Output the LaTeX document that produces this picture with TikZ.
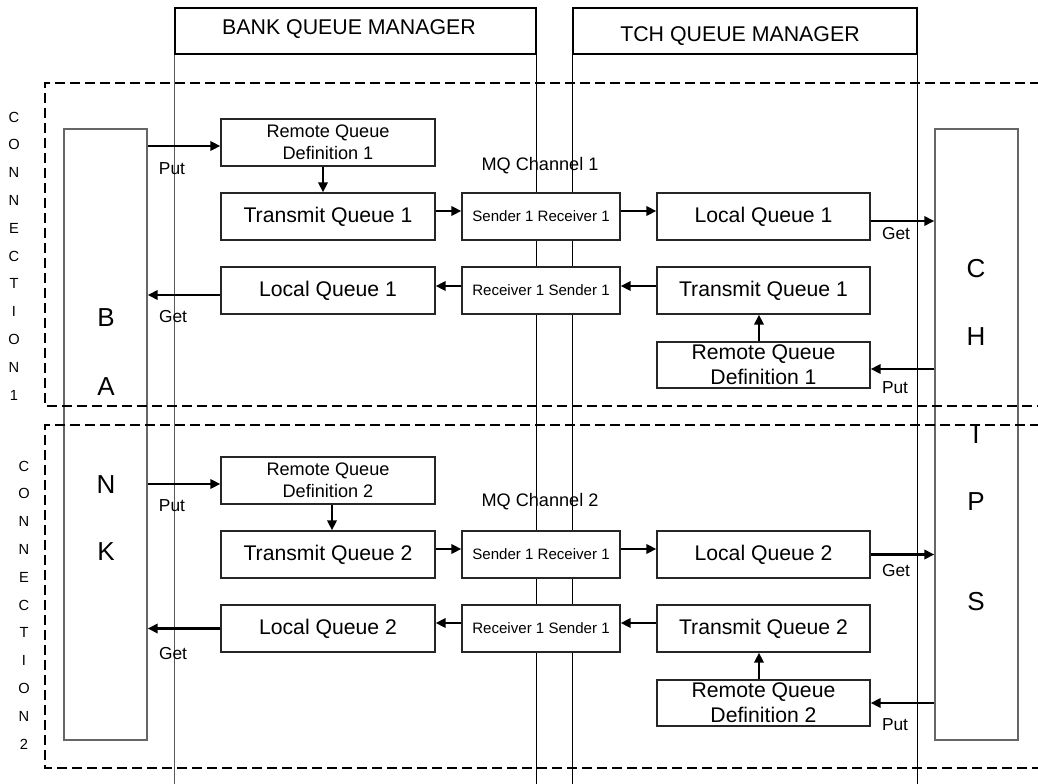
\documentclass[tikz,border=0pt]{standalone}
\usepackage{fontspec}
\setmainfont{Liberation Sans}
\usetikzlibrary{arrows.meta,calc}
\newcommand\fmain{\fontsize{15.9pt}{18pt}\selectfont}
\newcommand\fhdr{\fontsize{16pt}{19pt}\selectfont}
\newcommand\fsml{\fontsize{13.6pt}{16.5pt}\selectfont}
\newcommand\fbig{\fontsize{15.9pt}{18.75pt}\selectfont}
\newcommand\fsr{\fontsize{11.3pt}{13pt}\selectfont}
\newcommand\flbl{\fontsize{13pt}{15pt}\selectfont}
\newcommand\fconn{\fontsize{11pt}{20.85pt}\selectfont}
\newcommand\fletter{\fontsize{19.5pt}{22pt}\selectfont}
\begin{document}
\begin{tikzpicture}[x=0.75pt,y=-0.75pt,
  sz/.style 2 args={minimum width=#1*0.75pt,minimum height=#2*0.75pt},
  qbox/.style={draw=black!85,fill=white,line width=1pt,inner sep=0pt,font=\fmain,align=center},
  party/.style={draw=black!60,line width=1.1pt,inner sep=0pt},
  hdr/.style={draw=black,line width=1pt,inner sep=0pt},
  colline/.style={black,line width=1pt},
  arr/.style={line width=2pt,-{Triangle[length=7.5pt,width=7pt]}},
  dashbox/.style={line width=1.6pt,dash pattern=on 7.5pt off 3.75pt},
  lbl/.style={font=\flbl,inner sep=0pt},
  letter/.style={font=\fletter,inner sep=0pt},
  conn/.style={font=\fconn,align=center,inner sep=0pt},
]
\useasboundingbox (0,0) rectangle (1038,784);
\fill[white] (0,0) rectangle (1038,784);

% queue manager columns
\node[hdr,sz={361}{46}] (bankhdr) at (355.5,31) {};
\draw[colline,black!65] (bankhdr.south west) -- ++(0,740);
\draw[colline] (bankhdr.south east) -- ++(0,740);
\node[font=\fhdr,inner sep=0pt] (banktitle) at (349,29) {BANK QUEUE MANAGER};
\node[hdr,sz={344}{46}] (tchhdr) at (745,31) {};
\draw[colline] (tchhdr.south west) -- ++(0,740);
\draw[colline] (tchhdr.south east) -- ++(0,740);
\node[font=\fhdr,inner sep=0pt] (tchtitle) at (740,36) {TCH QUEUE MANAGER};

% bank and chips
\node[party,sz={83}{611}] (bank) at (105.5,434.5) {};
\node[party,sz={83}{611}] (chips) at (976.5,434.5) {};

% connection frames
\coordinate (f1a) at (1040,83); \coordinate (f1b) at (45,83);
\coordinate (f1c) at (45,406); \coordinate (f1d) at (1040,406);
\draw[dashbox] (f1a) -- (f1b) -- (f1c) -- (f1d);
\coordinate (f2a) at (1040,425); \coordinate (f2b) at (45,425);
\coordinate (f2c) at (45,768); \coordinate (f2d) at (1040,768);
\draw[dashbox] (f2a) -- (f2b) -- (f2c) -- (f2d);

% letters
\node[letter] (lB) at (106,318) {B};
\node[letter] (lA) at (106,386.5) {A};
\node[letter] (lN) at (106,485) {N};
\node[letter] (lK) at (106,552) {K};
\node[letter] (lC) at (976,269) {C};
\node[letter] (lH) at (976,336.5) {H};
\node[letter] (lI) at (976,435) {I};
\node[letter] (lP) at (976,502) {P};
\node[letter] (lS) at (976,602) {S};

\node[conn] (conn1) at (14,256) {C\\O\\N\\N\\E\\C\\T\\I\\O\\N\\1};
\node[conn] (conn2) at (24,605) {C\\O\\N\\N\\E\\C\\T\\I\\O\\N\\2};

% ---------- connection 1 ----------
\node[qbox,font=\fsml,sz={214}{47}] (rqd1b) at (328,142.5) {Remote Queue\\Definition 1};
\node[qbox,sz={214}{47}] (tq1b) at (328,216.5) {Transmit Queue 1};
\node[qbox,sz={214}{47}] (lq1b) at (328,290.5) {Local Queue 1};
\node[qbox,font=\fsr,sz={158}{47}] (sr1) at (541,216.5) {Sender 1 Receiver 1};
\node[qbox,font=\fsr,sz={158}{47}] (rs1) at (541,290.5) {Receiver 1 Sender 1};
\node[qbox,sz={213}{47}] (lq1t) at (763.5,216.5) {Local Queue 1};
\node[qbox,sz={213}{47}] (tq1t) at (763.5,290.5) {Transmit Queue 1};
\node[qbox,font=\fbig,sz={213}{46}] (rqd1t) at (763.5,365) {Remote Queue\\Definition 1};
\node[font=\fsml,inner sep=0pt] (mq1) at (540,166) {MQ Channel 1};

\draw[arr] ($(rqd1b.west -| bank.east)+(0,3.5)$) -- ($(rqd1b.west)+(0,3.5)$);
\draw[arr] ($(rqd1b.south)+(-5,0)$) -- ($(tq1b.north)+(-5,0)$);
\draw[arr] ($(tq1b.east)+(0,-5.5)$) -- ($(sr1.west)+(0,-5.5)$);
\draw[arr] ($(sr1.east)+(0,-5.5)$) -- ($(lq1t.west)+(0,-5.5)$);
\draw[arr] ($(lq1t.east)+(0,4.5)$) -- ($(lq1t.east -| chips.west)+(0,4.5)$);
\draw[arr] ($(tq1t.west)+(0,-4.5)$) -- ($(rs1.east)+(0,-4.5)$);
\draw[arr] ($(rs1.west)+(0,-4.5)$) -- ($(lq1b.east)+(0,-4.5)$);
\draw[arr] ($(lq1b.west)+(0,4.5)$) -- ($(lq1b.west -| bank.east)+(0,4.5)$);
\draw[arr] ($(rqd1t.north)+(-4.5,0)$) -- ($(tq1t.south)+(-4.5,0)$);
\draw[arr] ($(rqd1t.east -| chips.west)+(0,4)$) -- ($(rqd1t.east)+(0,4)$);

\node[lbl] (put1b) at (172,169) {Put};
\node[lbl] (get1b) at (173,317) {Get};
\node[lbl] (get1t) at (896,234) {Get};
\node[lbl] (put1t) at (895,388) {Put};

% ---------- connection 2 ----------
\node[qbox,font=\fsml,sz={214}{47}] (rqd2b) at (328,480.5) {Remote Queue\\Definition 2};
\node[qbox,sz={214}{47}] (tq2b) at (328,554.5) {Transmit Queue 2};
\node[qbox,sz={214}{47}] (lq2b) at (328,628.5) {Local Queue 2};
\node[qbox,font=\fsr,sz={158}{47}] (sr2) at (541,554.5) {Sender 1 Receiver 1};
\node[qbox,font=\fsr,sz={158}{47}] (rs2) at (541,628.5) {Receiver 1 Sender 1};
\node[qbox,sz={213}{47}] (lq2t) at (763.5,554.5) {Local Queue 2};
\node[qbox,sz={213}{47}] (tq2t) at (763.5,628.5) {Transmit Queue 2};
\node[qbox,font=\fbig,sz={213}{46}] (rqd2t) at (763.5,703) {Remote Queue\\Definition 2};
\node[font=\fsml,inner sep=0pt] (mq2) at (540,502) {MQ Channel 2};

\draw[arr] ($(rqd2b.west -| bank.east)+(0,3.5)$) -- ($(rqd2b.west)+(0,3.5)$);
\draw[arr] ($(rqd2b.south)+(4,0)$) -- ($(tq2b.north)+(4,0)$);
\draw[arr] ($(tq2b.east)+(0,-5.5)$) -- ($(sr2.west)+(0,-5.5)$);
\draw[arr] ($(sr2.east)+(0,-5.5)$) -- ($(lq2t.west)+(0,-5.5)$);
\draw[arr] (lq2t.east) -- (lq2t.east -| chips.west);
\draw[arr] ($(tq2t.west)+(0,-5.5)$) -- ($(rs2.east)+(0,-5.5)$);
\draw[arr] ($(rs2.west)+(0,-5.5)$) -- ($(lq2b.east)+(0,-5.5)$);
\draw[arr] (lq2b.west) -- (lq2b.west -| bank.east);
\draw[arr] ($(rqd2t.north)+(-4.5,0)$) -- ($(tq2t.south)+(-4.5,0)$);
\draw[arr] (rqd2t.east -| chips.west) -- (rqd2t.east);

\node[lbl] (put2b) at (172,506) {Put};
\node[lbl] (get2b) at (173,654) {Get};
\node[lbl] (get2t) at (896,571) {Get};
\node[lbl] (put2t) at (895,725) {Put};
\end{tikzpicture}
\end{document}
